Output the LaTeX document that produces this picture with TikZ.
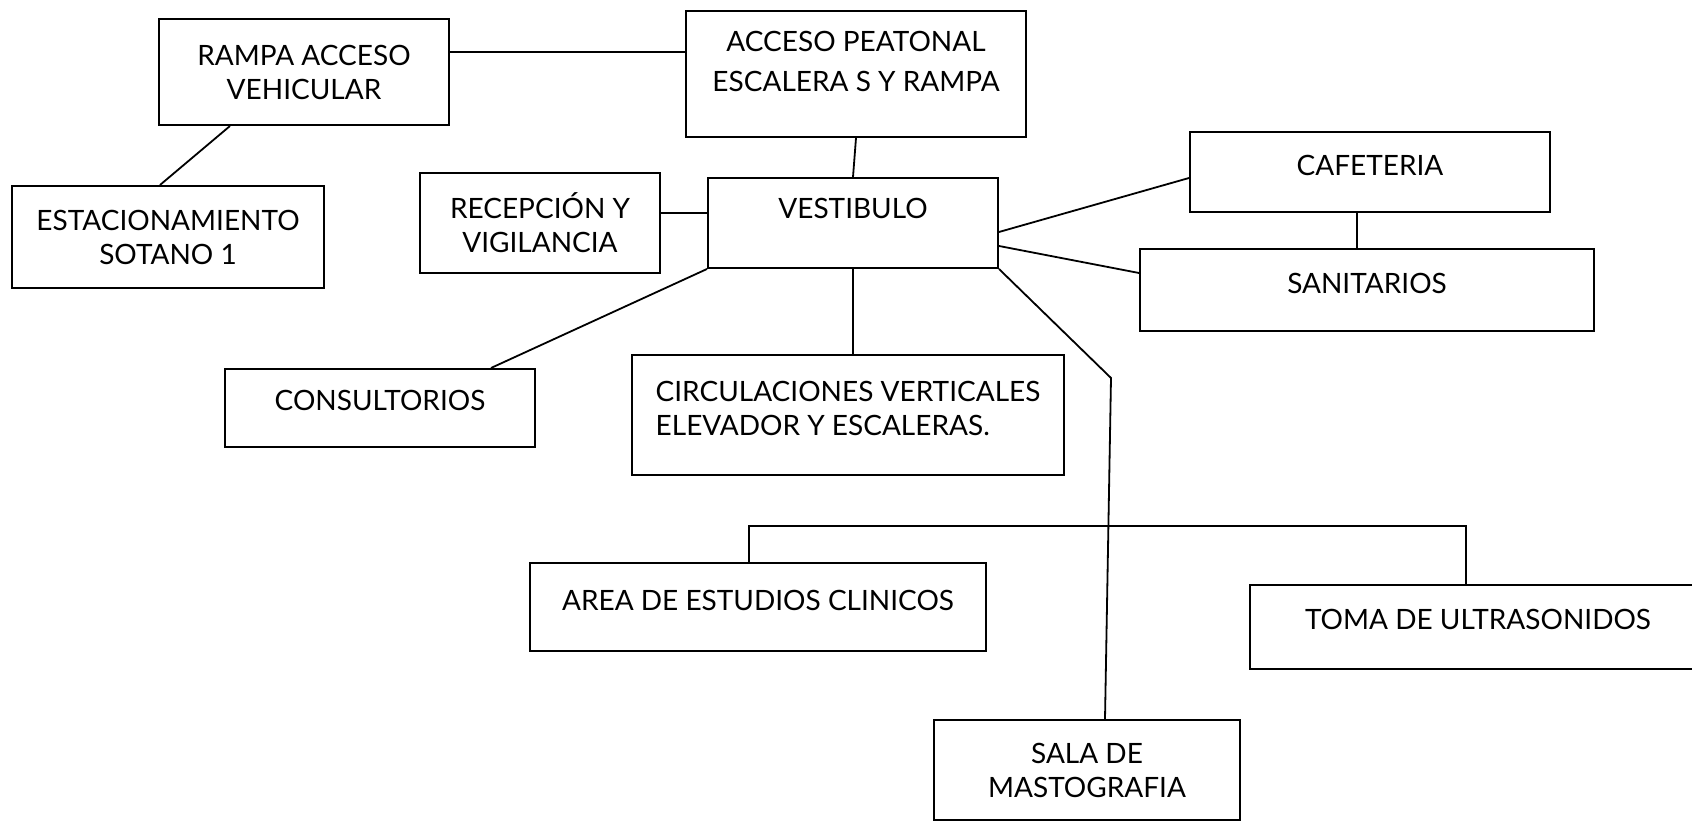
\documentclass[tikz,border=0pt]{standalone}
\usepackage{fontspec}
\setsansfont{Lato}
\usetikzlibrary{positioning, calc}
\tikzset{
  every picture/.style={font=\sffamily\fontsize{14}{17}\selectfont, line width=1pt},
  box/.style={draw, fill=white, align=center, inner sep=4pt, minimum width=#1},
  box/.default=140pt,
  link/.style={draw, line width=0.9pt},
}

\begin{document}
\begin{tikzpicture}[x=0.5pt, y=-0.5pt]
  \useasboundingbox (0,0) rectangle (1692,822);
  % upper level
  \node[box=145pt, minimum height=53pt, text depth=-4pt] (rampa) at (304,72) {RAMPA ACCESO\\VEHICULAR};
  \node[box=170pt, minimum height=63pt, text depth=13pt] (acceso) at (856,74) {ACCESO PEATONAL\\[3pt]ESCALERA S Y RAMPA};
  \node[box=156pt, minimum height=51pt] (estac) at (168,237) {ESTACIONAMIENTO\\SOTANO 1};
  \node[box=120pt, minimum height=50pt] (recep) at (540,223) {RECEPCIÓN Y\\VIGILANCIA};
  \node[box=145pt, minimum height=45pt, text depth=15pt] (vest) at (853,223) {VESTIBULO};
  \node[box=180pt, minimum height=40pt, text depth=7pt] (cafe) at (1370,172) {CAFETERIA};
  \node[box=227pt, minimum height=41pt, text depth=7pt] (sanit) at (1367,290) {SANITARIOS};
  % lower level
  \node[box=155pt, minimum height=39pt, text depth=8pt] (consult) at (380,408) {CONSULTORIOS};
  \node[box=216pt, minimum height=60pt, align=left, text depth=7pt] (circ) at (848,415) {CIRCULACIONES VERTICALES\\ELEVADOR Y ESCALERAS.};
  \node[box=228pt, minimum height=44pt, text depth=7pt] (area) at (758,607) {AREA DE ESTUDIOS CLINICOS};
  \node[box=228pt, minimum height=42pt, text depth=8pt] (toma) at (1478,627) {TOMA DE ULTRASONIDOS};
  \node[box=153pt, minimum height=50pt] (sala) at (1087,770) {SALA DE\\MASTOGRAFIA};
  \coordinate (kink) at (1111,378);

  \draw[link] (rampa.east |- 0,52) -- (acceso.west |- 0,52);
  \draw[link] (rampa.south -| 230,0) -- (estac.north -| 160,0);
  \draw[link] (acceso.south) -- (vest.north);
  \draw[link] (recep.east |- 0,213) -- (vest.west |- 0,213);
  \draw[link] (vest.east |- 0,232) -- (cafe.west |- 0,178);
  \draw[link] (vest.east |- 0,246) -- (sanit.west |- 0,273);
  \draw[link] (cafe.south -| 1357,0) -- (sanit.north -| 1357,0);
  \draw[link] (vest.south west) -- (consult.north -| 491,0);
  \draw[link] (vest.south) -- (circ.north -| vest.south);
  \draw[link] (vest.south east) -- (kink) -- (sala.north -| 1105,0);
  \draw[link] (area.north -| 749,0) |- (1466,526) -- (toma.north -| 1466,0);
\end{tikzpicture}
\end{document}
